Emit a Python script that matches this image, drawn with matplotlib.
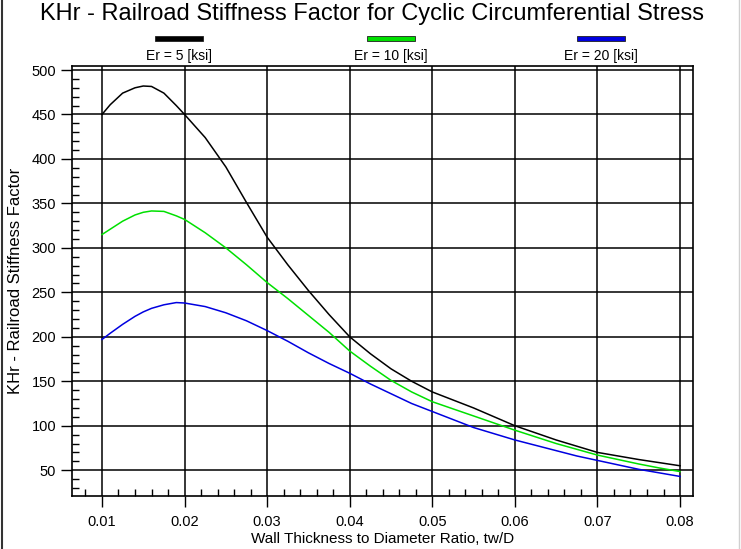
import numpy as np
import matplotlib.pyplot as plt
from matplotlib.patches import Rectangle
from matplotlib.lines import Line2D
from matplotlib.ticker import MultipleLocator

plt.rcParams['font.family'] = ['Liberation Sans', 'DejaVu Sans']

# wall thickness to diameter ratio
x_pts = [0.010, 0.011, 0.0125, 0.014, 0.015, 0.016, 0.0175, 0.019, 0.020, 0.0225,
         0.025, 0.0275, 0.030, 0.0325, 0.035, 0.0375, 0.040, 0.0425, 0.045, 0.0475,
         0.050, 0.0525, 0.055, 0.0575, 0.060, 0.0625, 0.065, 0.0675, 0.070, 0.0725,
         0.075, 0.0775, 0.080]

khr_er5 = [450, 461, 474, 480, 482, 481.5, 474, 460, 450, 424,
           391, 351, 312, 281, 252, 225, 200, 181, 164, 150,
           138, 129, 120, 110, 100, 92, 84, 77, 70, 66,
           62, 58.5, 55]
khr_er10 = [315, 321, 330, 337, 340, 341.5, 341, 336, 332, 317,
            300, 281, 261, 243, 224, 205, 184, 167, 151, 138,
            127, 119, 111, 103, 95, 87.5, 80, 73.5, 67, 62,
            57, 52.5, 48.5]
khr_er20 = [197, 204, 214, 223, 228, 232, 236, 238.5, 238, 234,
            227, 218, 207, 195, 182, 170, 159, 147, 136, 125,
            116, 107, 98, 91, 84, 78, 72, 66, 61, 56,
            51, 47, 43]

labels = ["Er = 5 [ksi]", "Er = 10 [ksi]", "Er = 20 [ksi]"]
colors = ["#000000", "#00e000", "#0000e0"]
series = [khr_er5, khr_er10, khr_er20]

fig = plt.figure(figsize=(7.41, 5.49), dpi=100)
ax = fig.add_axes([72 / 741, 1 - 496 / 549, (693 - 72) / 741, (496 - 66) / 549])

for ys, c in zip(series, colors):
    ax.plot(x_pts, ys, color=c, lw=1.1)

ax.set_xlim(0.00637, 0.08157)
ax.set_ylim(21, 504.5)
ax.xaxis.set_minor_locator(MultipleLocator(0.002))
ax.yaxis.set_minor_locator(MultipleLocator(10))
xt = np.arange(0.01, 0.0801, 0.01)
ax.set_xticks(xt)
ax.set_xticklabels([f"{v:.2f}" for v in xt])
ax.set_yticks(np.arange(50, 501, 50))
ax.grid(True, which='major', color='black', lw=1.1)
ax.tick_params(which='major', direction='out', length=8, width=1, labelsize=10.5, colors='black')
ax.tick_params(which='minor', direction='in', length=5, width=1)
ax.tick_params(axis='x', which='major', pad=6)
for s in ax.spines.values():
    s.set_linewidth(1.2)

ax.set_xlabel("Wall Thickness to Diameter Ratio, tw/D", fontsize=11, labelpad=2)
ax.set_ylabel("KHr - Railroad Stiffness Factor", fontsize=12, labelpad=6)

fig.text(372 / 741, 1 - 14 / 549, "KHr - Railroad Stiffness Factor for Cyclic Circumferential Stress",
         ha='center', va='center', fontsize=17)

# legend: colour bar above each label
legend_cx = [179, 391, 601]
for cx, lab, c in zip(legend_cx, labels, colors):
    fig.add_artist(Rectangle(((cx - 24) / 741, 1 - 41 / 549), 48 / 741, 5 / 549,
                             transform=fig.transFigure, facecolor=c, edgecolor='#202020', lw=0.6))
    fig.text(cx / 741, 1 - 56 / 549, lab, ha='center', va='center', fontsize=10)

# outer frame
fig.add_artist(Line2D([1.5 / 741, 1.5 / 741], [0, 1], transform=fig.transFigure, color='#333333', lw=1.5))
fig.add_artist(Line2D([739 / 741, 739 / 741], [0, 1], transform=fig.transFigure, color='#d0d0d0', lw=1))

fig.savefig("out.png", dpi=100)
